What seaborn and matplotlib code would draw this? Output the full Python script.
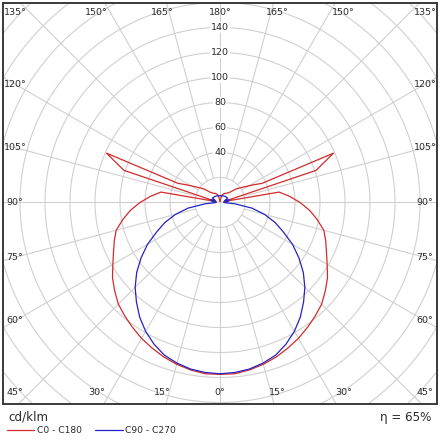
import numpy as np
import pandas as pd
import matplotlib
matplotlib.use("Agg")
import matplotlib.pyplot as plt
from matplotlib.lines import Line2D
import seaborn as sns

# ---------------- data (cd/klm against gamma angle, degrees) ----------------
gamma_c0_c180 = [0, 5, 10, 15, 20, 25, 30, 35, 40, 45, 50, 55, 60, 65, 70, 75,
                 80, 85, 90, 95, 100, 104, 108.5, 113.5, 114.5, 118, 122, 126,
                 130, 136, 145, 155, 165, 175, 180]
intensity_c0_c180 = [137.5, 137.5, 136, 134, 131.5, 128.5, 125.5, 122, 118.5,
                     115, 110, 105, 99, 94, 90, 86, 79, 72, 64, 56, 48, 3, 81,
                     99, 37, 30, 24, 20, 17, 11.5, 9, 8, 6, 2, 1]

gamma_c90_c270 = [0, 5, 10, 15, 20, 25, 30, 35, 40, 45, 50, 55, 60, 65, 70, 75,
                  80, 85, 90, 100, 107, 112, 120, 135, 150, 165, 180]
intensity_c90_c270 = [137, 136.5, 135.3, 133, 130, 125, 119, 112, 104, 96, 87,
                      77, 67, 56, 47, 37, 26, 12, 3, 7, 7.5, 4, 7, 6.5, 6, 5.5,
                      5.5]

ring_values = [20, 40, 60, 80, 100, 120, 140, 160, 180, 200, 220, 240]
ring_label_values = [40, 60, 80, 100, 120, 140]
spoke_angles = list(range(0, 360, 15))
left_angle_labels = [0, 15, 30, 45, 60, 75, 90, 105, 120, 135, 150, 165, 180]
curve_names = ["C0 - C180", "C90 - C270"]
unit_text = "cd/klm"
efficiency_text = "η = 65%"

# ---------------- styling ----------------
RED = "#d42a2a"
BLUE = "#2323c4"
GRID = "#d0d0d0"
TEXT = "#2a2a2a"
TICK_FS = 6.8

sns.set_theme(style="white")
plt.rcParams["font.family"] = ["DejaVu Sans"]

PX = 440.0
fig = plt.figure(figsize=(4.4, 4.4), dpi=100)
fig.patch.set_facecolor("white")

# axes frame in pixels: x 3..437, y 3..404 ; pole at (220, 202.5); 1.25 px per cd/klm
left_px, right_px, top_px, bottom_px = 3, 437, 3, 404
cx, cy, scale = 220.0, 202.5, 1.25
ax = fig.add_axes([left_px / PX, 1 - bottom_px / PX,
                   (right_px - left_px) / PX, (bottom_px - top_px) / PX])
ax.set_xlim((left_px - cx) / scale, (right_px - cx) / scale)
ax.set_ylim(-(bottom_px - cy) / scale, (cy - top_px) / scale)
ax.set_xticks([])
ax.set_yticks([])
for sp in ax.spines.values():
    sp.set_color("#3a3a3a")
    sp.set_linewidth(1.4)
    sp.set_visible(True)

# ---------------- grid ----------------
t = np.linspace(0, 2 * np.pi, 721)
for r in ring_values:
    ax.plot(r * np.cos(t), r * np.sin(t), color=GRID, lw=0.8, zorder=1)
for a in spoke_angles:
    rad = np.deg2rad(a)
    r0 = 0 if a % 90 == 0 else ring_values[0]
    ax.plot([r0 * np.sin(rad), 400 * np.sin(rad)],
            [-r0 * np.cos(rad), -400 * np.cos(rad)],
            color=GRID, lw=0.8, zorder=1)

for r in ring_label_values:
    ax.text(0, r, str(r), ha="center", va="center", fontsize=TICK_FS, color=TEXT,
            zorder=3, bbox=dict(boxstyle="square,pad=0.1", fc="white", ec="none"))

# angle labels placed where each spoke meets a square around the pole
side_h = 164.0      # half width for side labels (data units)
row_h = 171.0       # reach used for top / bottom rows
row_y = 152.0       # vertical position of top / bottom rows
for a in left_angle_labels:
    rad = np.deg2rad(a)
    s, c = np.sin(rad), np.cos(rad)
    for side in (-1, 1):
        if a in (0, 180) and side == 1:
            continue
        if abs(c) >= abs(s) - 1e-9:
            x = np.clip(row_h * s / abs(c), -side_h, side_h) * side
            y = -row_y if c > 0 else row_y
        else:
            x = side_h * side
            y = -side_h * c / s
        ax.text(x, y, f"{a}°", ha="center", va="center", fontsize=TICK_FS,
                color=TEXT, zorder=3)


# ---------------- curves ----------------
def closed_curve(gammas, values):
    g = np.deg2rad(np.asarray(gammas, dtype=float))
    v = np.asarray(values, dtype=float)
    # left half (C180 / C270): gamma 180 -> 0, right half (C0 / C90): 0 -> 180
    x = np.concatenate([-(v * np.sin(g))[::-1], v * np.sin(g)])
    y = np.concatenate([-(v * np.cos(g))[::-1], -v * np.cos(g)])
    return pd.DataFrame({"x": x, "y": y, "order": np.arange(len(x))})


df_red = closed_curve(gamma_c0_c180, intensity_c0_c180)
df_blue = closed_curve(gamma_c90_c270, intensity_c90_c270)
sns.lineplot(data=df_red, x="x", y="y", sort=False, estimator=None,
             color=RED, lw=0.9, ax=ax, zorder=4, legend=False)
sns.lineplot(data=df_blue, x="x", y="y", sort=False, estimator=None,
             color=BLUE, lw=0.9, ax=ax, zorder=5, legend=False)
ax.set_xlabel("")
ax.set_ylabel("")

# ---------------- footer ----------------
def fx(px):
    return px / PX


def fy(py):
    return 1 - py / PX


fig.text(fx(8), fy(417), unit_text, ha="left", va="center", fontsize=8.6, color=TEXT)
fig.text(fx(431), fy(417), efficiency_text, ha="right", va="center", fontsize=8.6, color=TEXT)
fig.add_artist(Line2D([fx(7), fx(34)], [fy(430), fy(430)], color=RED, lw=0.9))
fig.text(fx(37), fy(430), curve_names[0], ha="left", va="center", fontsize=6.6, color=TEXT)
fig.add_artist(Line2D([fx(95), fx(123)], [fy(430), fy(430)], color=BLUE, lw=0.9))
fig.text(fx(125), fy(430), curve_names[1], ha="left", va="center", fontsize=6.6, color=TEXT)

fig.savefig("out.png", dpi=100, facecolor="white")
